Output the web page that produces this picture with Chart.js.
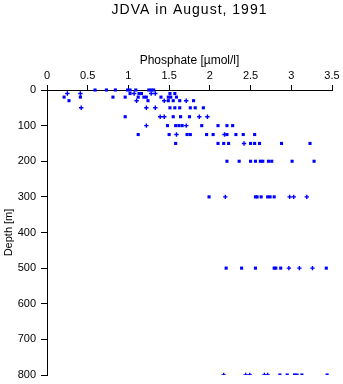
<!DOCTYPE html>
<html>
<head>
<meta charset="utf-8">
<title>JDVA in August, 1991</title>
<script src="https://cdn.jsdelivr.net/npm/chart.js@4"></script>
<style>
  html, body { margin: 0; padding: 0; background: #fff; }
  #wrap { width: 343px; height: 384px; }
</style>
</head>
<body>
<div id="wrap"><canvas id="chart" width="343" height="384"></canvas></div>
<script>
// sampling depths [m]
const depths = [0, 10, 20, 30, 50, 75, 100, 125, 150, 200, 300, 500, 800];

// phosphate [umol/l] per depth, square markers
const squareVals = [
  [0.59, 0.73, 0.84, 0.99, 1.02, 1.09, 1.25, 1.28, 1.31],
  [1.02, 1.13, 1.16, 1.51, 1.57],
  [0.21, 0.41, 0.81, 0.96, 1.12, 1.19, 1.22, 1.40, 1.49, 1.52, 1.59],
  [0.27, 1.24, 1.49, 1.55, 1.63, 1.80],
  [1.51, 1.57, 1.63, 1.76, 1.82, 1.92],
  [0.96, 1.55, 1.64, 1.75],
  [1.48, 1.58, 1.62, 1.66, 1.90, 2.10, 2.21, 2.28],
  [1.12, 1.50, 1.72, 1.76, 1.96, 2.04, 2.21, 2.32, 2.41, 2.55],
  [1.58, 2.10, 2.17, 2.23, 2.50, 2.55, 2.61, 2.88, 3.23],
  [2.21, 2.36, 2.50, 2.56, 2.62, 2.65, 2.72, 2.76, 3.01, 3.28],
  [1.99, 2.56, 2.58, 2.63, 2.71, 2.74, 2.79],
  [2.20, 2.39, 2.56, 2.79, 2.81, 2.87, 3.43],
  [2.86, 2.95, 3.04, 3.07, 3.13, 3.44]
];

// phosphate per depth, cross markers
const crossVals = [
  [],
  [0.25, 0.41, 1.07, 1.28, 1.33],
  [],
  [1.10, 1.44, 1.71],
  [0.42, 1.22, 1.33],
  [1.39, 1.44, 1.87, 1.97],
  [1.22, 1.71],
  [1.59, 2.18],
  [2.42],
  [],
  [2.19, 2.98, 3.03, 3.19],
  [2.97, 3.10, 3.26],
  [2.17, 2.44, 2.49, 2.67, 2.71]
];

const xTicks = [0, 0.5, 1, 1.5, 2, 2.5, 3, 3.5];
const yTicks = [0, 100, 200, 300, 400, 500, 600, 700, 800];
const chartTitle = "JDVA in August, 1991";

const toPoints = (rows) => {
  const pts = [];
  rows.forEach((row, i) => row.forEach((v) => pts.push({ x: v, y: depths[i] })));
  return pts;
};

const FONT = "'Liberation Sans', Arial, Helvetica, sans-serif";
const BLUE = "rgb(0,0,255)";

// title centred over the plot area, not the whole canvas
const plotTitle = {
  id: "plotTitle",
  afterDraw(chart) {
    const c = chart.ctx;
    const area = chart.chartArea;
    c.save();
    c.font = "14px " + FONT;
    if ("letterSpacing" in c) c.letterSpacing = "1px";
    c.fillStyle = "#000";
    c.textAlign = "center";
    c.textBaseline = "alphabetic";
    c.fillText(chartTitle, (area.left + area.right) / 2, 14);
    c.restore();
  }
};

const ctx = document.getElementById("chart").getContext("2d");
new Chart(ctx, {
  type: "scatter",
  data: {
    datasets: [
      {
        label: "squares",
        data: toPoints(squareVals),
        pointStyle: "rect",
        pointRadius: 2.2,
        pointBorderWidth: 0,
        backgroundColor: BLUE,
        borderColor: BLUE,
        clip: { left: false, top: false, right: false, bottom: 0 }
      },
      {
        label: "crosses",
        data: toPoints(crossVals),
        pointStyle: "cross",
        pointRadius: 2.2,
        pointBorderWidth: 1.4,
        backgroundColor: BLUE,
        borderColor: BLUE,
        clip: { left: false, top: false, right: false, bottom: 0 }
      }
    ]
  },
  options: {
    responsive: false,
    animation: false,
    layout: { padding: { top: 48, left: 0, right: 11, bottom: 9 } },
    plugins: {
      legend: { display: false },
      tooltip: { enabled: false },
      title: { display: false }
    },
    scales: {
      x: {
        type: "linear",
        position: "top",
        min: 0,
        max: 3.5,
        afterFit: (s) => { s.height = 42; },
        afterBuildTicks: (s) => { s.ticks = xTicks.map((v) => ({ value: v })); },
        ticks: {
          color: "#000",
          font: { family: FONT, size: 11 },
          padding: 2,
          maxRotation: 0,
          callback: (v) => String(v)
        },
        grid: { drawOnChartArea: false, drawTicks: true, tickLength: 5, color: "#000", lineWidth: 1 },
        border: { display: true, color: "#000", width: 1 },
        title: {
          display: true,
          text: "Phosphate [\u00b5mol/l]",
          color: "#000",
          font: { family: FONT, size: 12 },
          padding: { top: 5, bottom: 0 }
        }
      },
      y: {
        type: "linear",
        reverse: true,
        min: 0,
        max: 800,
        afterFit: (s) => {
          s.width = 47;
          s.paddingTop = 0;
          s.paddingBottom = 0;
        },
        afterBuildTicks: (s) => { s.ticks = yTicks.map((v) => ({ value: v })); },
        ticks: {
          color: "#000",
          font: { family: FONT, size: 11 },
          padding: 5,
          callback: (v) => String(v)
        },
        grid: { drawOnChartArea: false, drawTicks: true, tickLength: 6, color: "#000", lineWidth: 1 },
        border: { display: true, color: "#000", width: 1 },
        title: {
          display: true,
          text: "Depth [m]",
          color: "#000",
          font: { family: FONT, size: 11 },
          padding: { top: 2, bottom: 0 }
        }
      }
    }
  },
  plugins: [plotTitle]
});
</script>
</body>
</html>
